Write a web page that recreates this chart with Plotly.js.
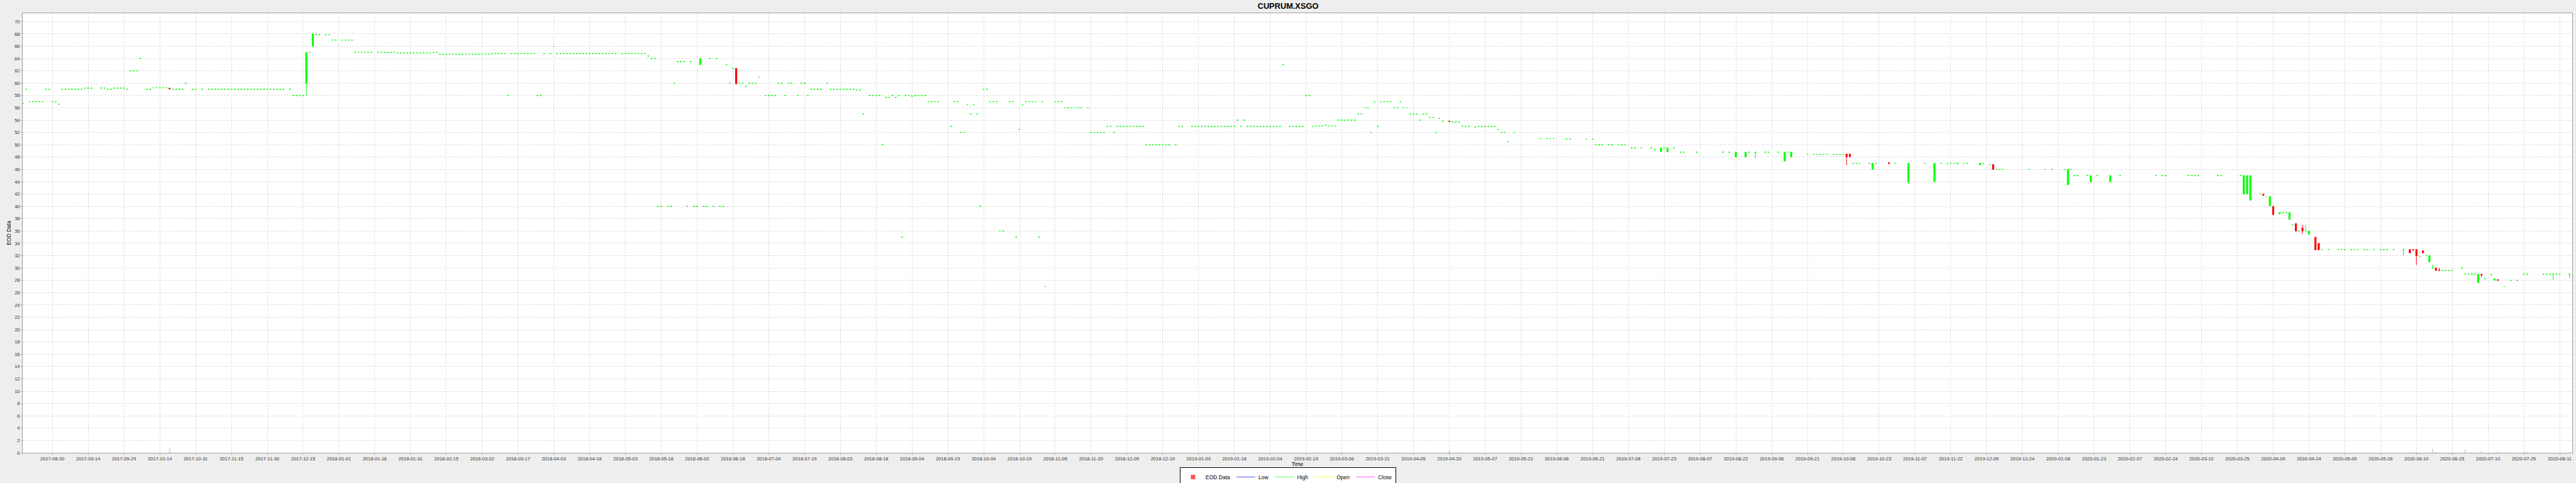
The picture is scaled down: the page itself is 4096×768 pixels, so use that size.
<!DOCTYPE html>
<html><head><meta charset="utf-8">
<script src="https://cdn.plot.ly/plotly-3.0.1.min.js"></script>
<style>html,body{margin:0;padding:0;background:#eeeeee;}#chart{width:4096px;height:768px;}</style>
</head><body><div id="chart"></div>
<script>
// ---- data (daily EOD candles) ----
const dates = [
 '2017-08-17','2017-08-18','2017-08-21','2017-08-22','2017-08-23','2017-08-24','2017-08-25','2017-08-28','2017-08-29','2017-08-30','2017-08-31',
 '2017-09-01','2017-09-04','2017-09-05','2017-09-06','2017-09-07','2017-09-08','2017-09-11','2017-09-12','2017-09-13','2017-09-14','2017-09-15','2017-09-20','2017-09-21','2017-09-22','2017-09-25','2017-09-26','2017-09-27','2017-09-28','2017-09-29',
 '2017-10-02','2017-10-03','2017-10-04','2017-10-05','2017-10-06','2017-10-10','2017-10-11','2017-10-12','2017-10-13','2017-10-16','2017-10-17','2017-10-18','2017-10-19','2017-10-20','2017-10-23','2017-10-24','2017-10-25','2017-10-26','2017-10-30','2017-10-31',
 '2017-11-02','2017-11-06','2017-11-07','2017-11-08','2017-11-09','2017-11-10','2017-11-13','2017-11-14','2017-11-15','2017-11-16','2017-11-17','2017-11-20','2017-11-21','2017-11-22','2017-11-23','2017-11-24','2017-11-27','2017-11-28','2017-11-29','2017-11-30',
 '2017-12-01','2017-12-04','2017-12-05','2017-12-06','2017-12-07','2017-12-11','2017-12-12','2017-12-13','2017-12-14','2017-12-15','2017-12-18','2017-12-19','2017-12-20','2017-12-21','2017-12-22','2017-12-26','2017-12-27','2017-12-28','2017-12-29',
 '2018-01-02','2018-01-03','2018-01-04','2018-01-05','2018-01-08','2018-01-09','2018-01-10','2018-01-11','2018-01-12','2018-01-15','2018-01-17','2018-01-18','2018-01-19','2018-01-22','2018-01-23','2018-01-24','2018-01-25','2018-01-26','2018-01-29','2018-01-30','2018-01-31',
 '2018-02-01','2018-02-02','2018-02-05','2018-02-06','2018-02-07','2018-02-08','2018-02-09','2018-02-12','2018-02-13','2018-02-14','2018-02-15','2018-02-16','2018-02-19','2018-02-20','2018-02-21','2018-02-22','2018-02-23','2018-02-26','2018-02-27','2018-02-28',
 '2018-03-01','2018-03-02','2018-03-05','2018-03-06','2018-03-07','2018-03-08','2018-03-09','2018-03-12','2018-03-13','2018-03-14','2018-03-15','2018-03-16','2018-03-19','2018-03-20','2018-03-21','2018-03-22','2018-03-23','2018-03-26','2018-03-27','2018-03-28','2018-03-29',
 '2018-04-02','2018-04-03','2018-04-04','2018-04-05','2018-04-06','2018-04-09','2018-04-10','2018-04-11','2018-04-12','2018-04-13','2018-04-16','2018-04-17','2018-04-18','2018-04-19','2018-04-20','2018-04-23','2018-04-24','2018-04-25','2018-04-26','2018-04-27','2018-04-30',
 '2018-05-02','2018-05-03','2018-05-04','2018-05-07','2018-05-08','2018-05-09','2018-05-10','2018-05-11','2018-05-14','2018-05-15','2018-05-16','2018-05-17','2018-05-18','2018-05-22','2018-05-23','2018-05-24','2018-05-25','2018-05-28','2018-05-29','2018-05-30','2018-05-31',
 '2018-06-01','2018-06-04','2018-06-05','2018-06-06','2018-06-07','2018-06-08','2018-06-11','2018-06-12','2018-06-13','2018-06-14','2018-06-15','2018-06-18','2018-06-19','2018-06-20','2018-06-21','2018-06-22','2018-06-25','2018-06-26','2018-06-27','2018-06-28','2018-06-29',
 '2018-07-03','2018-07-04','2018-07-05','2018-07-06','2018-07-09','2018-07-10','2018-07-11','2018-07-12','2018-07-13','2018-07-17','2018-07-18','2018-07-19','2018-07-20','2018-07-23','2018-07-24','2018-07-25','2018-07-26','2018-07-30','2018-07-31',
 '2018-08-01','2018-08-02','2018-08-03','2018-08-06','2018-08-07','2018-08-08','2018-08-09','2018-08-10','2018-08-13','2018-08-14','2018-08-16','2018-08-17','2018-08-20','2018-08-21','2018-08-22','2018-08-23','2018-08-24','2018-08-27','2018-08-28','2018-08-29','2018-08-30','2018-08-31',
 '2018-09-03','2018-09-04','2018-09-05','2018-09-06','2018-09-07','2018-09-10','2018-09-11','2018-09-12','2018-09-13','2018-09-14','2018-09-20','2018-09-21','2018-09-24','2018-09-25','2018-09-26','2018-09-27','2018-09-28',
 '2018-10-01','2018-10-02','2018-10-03','2018-10-04','2018-10-05','2018-10-08','2018-10-09','2018-10-10','2018-10-11','2018-10-12','2018-10-16','2018-10-17','2018-10-18','2018-10-19','2018-10-22','2018-10-23','2018-10-24','2018-10-25','2018-10-26','2018-10-29','2018-10-30','2018-10-31',
 '2018-11-05','2018-11-06','2018-11-07','2018-11-08','2018-11-09','2018-11-12','2018-11-13','2018-11-14','2018-11-15','2018-11-19','2018-11-20','2018-11-21','2018-11-22','2018-11-23','2018-11-26','2018-11-27','2018-11-28','2018-11-29','2018-11-30',
 '2018-12-03','2018-12-04','2018-12-05','2018-12-06','2018-12-07','2018-12-10','2018-12-11','2018-12-12','2018-12-13','2018-12-14','2018-12-17','2018-12-18','2018-12-19','2018-12-20','2018-12-21','2018-12-24','2018-12-26','2018-12-27','2018-12-28',
 '2019-01-02','2019-01-03','2019-01-04','2019-01-07','2019-01-08','2019-01-09','2019-01-10','2019-01-11','2019-01-14','2019-01-15','2019-01-16','2019-01-17','2019-01-18','2019-01-21','2019-01-22','2019-01-23','2019-01-24','2019-01-25','2019-01-28','2019-01-29','2019-01-30','2019-01-31',
 '2019-02-01','2019-02-04','2019-02-05','2019-02-06','2019-02-07','2019-02-08','2019-02-11','2019-02-13','2019-02-14','2019-02-15','2019-02-18','2019-02-19','2019-02-20','2019-02-21','2019-02-22','2019-02-25','2019-02-26','2019-02-27','2019-02-28',
 '2019-03-01','2019-03-04','2019-03-05','2019-03-06','2019-03-07','2019-03-08','2019-03-11','2019-03-12','2019-03-13','2019-03-14','2019-03-15','2019-03-18','2019-03-19','2019-03-20','2019-03-21','2019-03-22','2019-03-25','2019-03-26','2019-03-27','2019-03-28','2019-03-29',
 '2019-04-01','2019-04-02','2019-04-03','2019-04-04','2019-04-05','2019-04-08','2019-04-09','2019-04-10','2019-04-11','2019-04-12','2019-04-15','2019-04-16','2019-04-17','2019-04-18','2019-04-19','2019-04-23','2019-04-24','2019-04-25','2019-04-26','2019-04-29','2019-04-30',
 '2019-05-01','2019-05-03','2019-05-06','2019-05-07','2019-05-08','2019-05-09','2019-05-10','2019-05-13','2019-05-14','2019-05-15','2019-05-16','2019-05-17','2019-05-21','2019-05-31',
 '2019-06-04','2019-06-05','2019-06-06','2019-06-12','2019-06-13','2019-06-20','2019-06-24','2019-06-25','2019-06-26','2019-06-27',
 '2019-07-01','2019-07-02','2019-07-04','2019-07-05','2019-07-08','2019-07-10','2019-07-11','2019-07-15','2019-07-18','2019-07-19','2019-07-23','2019-07-24','2019-07-25','2019-07-29','2019-07-31',
 '2019-08-01','2019-08-07','2019-08-19','2019-08-21','2019-08-23','2019-08-28','2019-08-29',
 '2019-09-02','2019-09-05','2019-09-06','2019-09-11','2019-09-13','2019-09-16','2019-09-17','2019-09-24','2019-09-26','2019-09-27','2019-09-30',
 '2019-10-01','2019-10-02','2019-10-04','2019-10-07','2019-10-08','2019-10-09','2019-10-10','2019-10-11','2019-10-14','2019-10-15','2019-10-16','2019-10-21','2019-10-22','2019-10-23','2019-10-29','2019-10-31',
 '2019-11-06','2019-11-13','2019-11-18','2019-11-20','2019-11-22','2019-11-25','2019-11-26','2019-11-27','2019-11-29',
 '2019-12-02','2019-12-06','2019-12-09','2019-12-11','2019-12-12','2019-12-13','2019-12-16','2019-12-17','2019-12-27',
 '2020-01-03','2020-01-07','2020-01-13','2020-01-14','2020-01-15','2020-01-16','2020-01-17','2020-01-22','2020-01-23','2020-01-27','2020-01-31',
 '2020-02-05','2020-02-20','2020-02-24','2020-02-25',
 '2020-03-05','2020-03-06','2020-03-09','2020-03-10','2020-03-18','2020-03-19','2020-03-27','2020-03-30','2020-03-31',
 '2020-04-01','2020-04-06','2020-04-07','2020-04-08','2020-04-09','2020-04-10','2020-04-14','2020-04-15','2020-04-16','2020-04-17','2020-04-20','2020-04-21','2020-04-22','2020-04-23','2020-04-24','2020-04-27','2020-04-29','2020-04-30',
 '2020-05-01','2020-05-05','2020-05-08','2020-05-11','2020-05-12','2020-05-14','2020-05-15','2020-05-18','2020-05-20','2020-05-21','2020-05-25','2020-05-27','2020-05-28','2020-05-29',
 '2020-06-02','2020-06-05','2020-06-09','2020-06-10','2020-06-11','2020-06-12','2020-06-15','2020-06-16','2020-06-17','2020-06-18','2020-06-19','2020-06-22','2020-06-23','2020-06-24','2020-06-25','2020-06-26',
 '2020-07-01','2020-07-02','2020-07-03','2020-07-06','2020-07-07','2020-07-08','2020-07-09','2020-07-10','2020-07-14','2020-07-15','2020-07-16','2020-07-20','2020-07-22','2020-07-24','2020-07-28','2020-07-29',
 '2020-08-05','2020-08-06','2020-08-07','2020-08-10','2020-08-11','2020-08-12','2020-08-17'
];
const openP = [
 56.7,59,57,57,57,57,57,59,59,57,57,
 56.6,59,59,59,59,59,59,59,59.2,59.2,59.2,59.2,59.2,59,59,59.2,59.2,59.2,59.2,
 59,62,62,62,64,59,59,59.25,59.25,59.25,59.25,59.25,59.2,59,59,59,59,60,59,59,
 59,59,59,59,59,59,59,59,59,59,59,59,59,59,59,59,59,59,59,59,
 59,59,59,59,59,59,58,58,58,58,60,65,66,67.9,67.9,67.85,67.85,67,67,
 67,67,67,67,65,65,65,65,65,65,65,65,65,65,65,65,64.9,64.9,64.9,64.9,64.9,
 64.9,64.9,64.9,64.9,64.9,64.9,65,65,64.7,64.7,64.7,64.7,64.7,64.7,64.7,64.7,64.7,64.7,64.7,64.7,
 64.7,64.7,64.7,64.7,64.8,64.8,64.8,64.8,64.8,58,64.8,64.8,64.8,64.8,64.8,64.8,64.8,64.8,58,58,64.8,
 64.8,66,64.8,64.8,64.8,64.8,64.8,64.8,64.8,64.8,64.8,64.8,64.8,64.8,64.8,64.8,64.8,64.8,64.8,64.8,64.8,
 64.8,64.8,64.8,64.8,64.8,64.8,64.8,64.8,64.4,64,64,40,40,40,40,60,63.5,63.5,63.5,40,63.5,
 40,40,63,40,40,64,40,64,40,40,63,60,62.4,62.4,60,60,59.5,60,60,60,61,
 58,58,58,58,60,60,58,60,60,58,60,60,58,59,59,59,59,60,59,
 59,59,59,59,59,59,59,58.9,58.9,55,58,58,58,58,50,57.7,57.7,58,57.7,58,35,58,
 58,57.9,58,58,58,58,57,57,57,57,53,57,57,52,52,56.5,55,
 56.5,55,40,59,59,57,57,57,36,36,57,57,35,52.5,56.5,57,57,57,57,35,57,27,
 57,57,57,56,56,56,56,56,56,56,52,52,52,52,52,53,53,52,53,
 53,53,53,53,53,53,53,53,50,50,50,50,50,50,50,50,50,53,53,
 53,53,53,53,53,53,53,53,53,53,53,53,53,53,54,53,54,53,53,53,53,53,
 53,53,53,53,53,53,63,53,53,53,53,53,58,58,53,53.1,53.05,53.05,53.2,
 53.05,53.05,53.05,54,54,54,54,54,54,55,55,56,56,52,57,53,57,57,57,57,56,
 56,57,56,56,55,55,55,54,55,55,54.45,54.45,52,54.3,53.8,53.85,53.7,53.7,53.7,53,53,
 53,52.9,53,53,53,53,53,53,52.5,52,52,50.5,52,51,
 51,51,51,50.95,50.95,50.9,50.9,50,50,50,
 50,50,50,50,50,49.5,49.5,49.5,49.5,49.2,48.9,49.5,48.85,49.5,48.8,
 48.8,48.8,48.8,48.8,48,48,48.8,
 48.7,48.8,48.8,48.8,47.35,48.8,48,48.45,48.45,48.45,48.45,
 48.45,48.45,48.45,48.45,48.45,48.45,48.5,48.5,47,47,47,47,46,47,47.1,47,
 44,47,44,47,47,47,47,46.9,47,
 47,46.75,47,46.8,46.8,46,46,46,46,
 46,46,46,43.5,46,45,45,45,44,45,44,
 45,45,45,45,
 45,45,45,45,45,45,45,42,42,
 41,42,42,41.6,40.1,40,38.8,39,39,37.9,37,37.2,36,36.5,36,35.5,35,34,
 33,33,33,33,33,33,33,33,33,33,33,33,33,33,
 33,33,33,33,33,31.9,32.8,32,31,30,30,29.65,29.6,29.6,29.6,29.6,
 30,29,29,29,29,27.6,29,28.25,28.9,28,28.1,27,28,28,29,29,
 29,29,29,29,29,29,29
];
const highP = [
 56.7,59,57,57,57,57,57,59,59,57,57,
 56.6,59,59,59,59,59,59,59,59.2,59.2,59.2,59.2,59.2,59,59,59.2,59.2,59.2,59.2,
 59,62,62,62,64,59,59,59.25,59.25,59.25,59.25,59.25,59.2,59,59,59,59,60,59,59,
 59,59,59,59,59,59,59,59,59,59,59,59,59,59,59,59,59,59,59,59,
 59,59,59,59,59,59,58,58,58,58,65,65,68,67.9,67.9,67.85,67.85,67,67,
 67,67,67,67,65,65,65,65,65,65,65,65,65,65,65,65,64.9,64.9,64.9,64.9,64.9,
 64.9,64.9,64.9,64.9,64.9,64.9,65,65,64.7,64.7,64.7,64.7,64.7,64.7,64.7,64.7,64.7,64.7,64.7,64.7,
 64.7,64.7,64.7,64.7,64.8,64.8,64.8,64.8,64.8,58,64.8,64.8,64.8,64.8,64.8,64.8,64.8,64.8,58,58,64.8,
 64.8,66,64.8,64.8,64.8,64.8,64.8,64.8,64.8,64.8,64.8,64.8,64.8,64.8,64.8,64.8,64.8,64.8,64.8,64.8,64.8,
 64.8,64.8,64.8,64.8,64.8,64.8,64.8,64.8,64.4,64,64,40,40,40,40,60,63.5,63.5,63.5,40,63.5,
 40,40,64,40,40,64,40,64,40,40,63,60,62.4,62.4,60,60,59.5,60,60,60,61,
 58,58,58,58,60,60,58,60,60,58,60,60,58,59,59,59,59,60,59,
 59,59,59,59,59,59,59,58.9,58.9,55,58,58,58,58,50,57.7,57.7,58,57.7,58,35,58,
 58,57.9,58,58,58,58,57,57,57,57,53,57,57,52,52,56.5,55,
 56.5,55,40,59,59,57,57,57,36,36,57,57,35,52.5,56.5,57,57,57,57,35,57,27,
 57,57,57,56,56,56,56,56,56,56,52,52,52,52,52,53,53,52,53,
 53,53,53,53,53,53,53,53,50,50,50,50,50,50,50,50,50,53,53,
 53,53,53,53,53,53,53,53,53,53,53,53,53,53,54,53,54,53,53,53,53,53,
 53,53,53,53,53,53,63,53,53,53,53,53,58,58,53,53.1,53.05,53.05,53.2,
 53.05,53.05,53.05,54,54,54,54,54,54,55,55,56,56,52,57,53,57,57,57,57,56,
 56,57,56,56,55,55,55,54,55,55,54.45,54.45,52,54.3,53.8,53.85,53.7,53.7,53.7,53,53,
 53,52.9,53,53,53,53,53,53,52.5,52,52,50.5,52,51,
 51,51,51,50.95,50.95,50.9,50.9,50,50,50,
 50,50,50,50,50,49.5,49.5,49.5,49.5,49.2,49.5,49.5,49.5,49.5,48.8,
 48.8,48.8,48.8,48.8,48.8,48.8,48.8,
 48.8,48.8,48.8,48.8,48.8,48.8,48.8,48.45,48.45,48.45,48.45,
 48.45,48.45,48.45,48.45,48.45,48.45,48.5,48.5,47,47,47,47,47,47,47.1,47,
 47,47,47,47,47,47,47,47,47,
 47,47,47,46.8,46.8,46,46,46,46,
 46,46,46,46,46,45,45,45,45,45,45,
 45,45,45,45,
 45,45,45,45,45,45,45,45,45,
 45,42,42,41.6,41.6,40,39,39,39,39,37,37.2,36,37,37,36,35,34,
 33,33,33,33,33,33,33,33,33,33,33,33,33,33,
 33,33,33,33,33,31.9,32.8,32,32,30.5,30,30,29.6,29.6,29.6,29.6,
 30,29,29,29,29,29,29,28.25,28.9,28.25,28.1,27,28,28,29,29,
 29,29,29,29,29,29,29
];
const lowP = [
 56.7,59,57,57,57,57,57,59,59,57,57,
 56.6,59,59,59,59,59,59,59,59.2,59.2,59.2,59.2,59.2,59,59,59.2,59.2,59.2,59.2,
 59,62,62,62,64,59,59,59.25,59.25,59.25,59.25,59.25,59.05,59,59,59,59,60,59,59,
 59,59,59,59,59,59,59,59,59,59,59,59,59,59,59,59,59,59,59,59,
 59,59,59,59,59,59,58,58,58,58,58,65,66,67.9,67.9,67.85,67.85,67,67,
 67,67,67,67,65,65,65,65,65,65,65,65,65,65,65,65,64.9,64.9,64.9,64.9,64.9,
 64.9,64.9,64.9,64.9,64.9,64.9,65,65,64.7,64.7,64.7,64.7,64.7,64.7,64.7,64.7,64.7,64.7,64.7,64.7,
 64.7,64.7,64.7,64.7,64.8,64.8,64.8,64.8,64.8,58,64.8,64.8,64.8,64.8,64.8,64.8,64.8,64.8,58,58,64.8,
 64.8,66,64.8,64.8,64.8,64.8,64.8,64.8,64.8,64.8,64.8,64.8,64.8,64.8,64.8,64.8,64.8,64.8,64.8,64.8,64.8,
 64.8,64.8,64.8,64.8,64.8,64.8,64.8,64.8,64.4,64,64,40,40,40,40,60,63.5,63.5,63.5,40,63.5,
 40,40,63,40,40,64,40,64,40,40,63,60,62.4,59.9,60,60,59.5,60,60,60,61,
 58,58,58,58,60,60,58,60,60,58,60,60,58,59,59,59,59,60,59,
 59,59,59,59,59,59,59,58.9,58.9,55,58,58,58,58,50,57.7,57.7,58,57.7,58,35,58,
 58,57.9,58,58,58,58,57,57,57,57,53,57,57,52,52,56.5,55,
 56.5,55,40,59,59,57,57,57,36,36,57,57,35,52.5,56.5,57,57,57,57,35,57,27,
 57,57,57,56,56,56,56,56,56,56,52,52,52,52,52,53,53,52,53,
 53,53,53,53,53,53,53,53,50,50,50,50,50,50,50,50,50,53,53,
 53,53,53,53,53,53,53,53,53,53,53,53,53,53,54,53,54,53,53,53,53,53,
 53,53,53,53,53,53,63,53,53,53,53,53,58,58,53,53.1,53.05,53.05,53.2,
 53.05,53.05,53.05,54,54,54,54,54,54,55,55,56,56,52,57,53,57,57,57,57,56,
 56,57,56,56,55,55,55,54,55,55,54.45,54.45,52,54.3,53.8,53.75,53.7,53.7,53.7,53,53,
 53,52.9,53,53,53,53,53,53,52.5,52,52,50.5,52,51,
 51,51,51,50.95,50.95,50.9,50.9,50,50,50,
 50,50,50,50,50,49.5,49.5,49.5,49.5,49.2,48.9,49.5,48.85,49.5,48.8,
 48.8,48.8,48.8,48.8,48,48,48.8,
 47.9,48.8,48.8,48.8,47.35,48.8,48,48.45,48.45,48.45,48.45,
 48.45,48.45,48.45,48.45,48.45,48.45,46.7,48.05,47,47,47,47,46,47,46.95,47,
 43.6,47,44,47,47,47,47,46.9,47,
 47,46.75,47,46.8,46,46,46,46,46,
 46,46,46,43.5,46,45,45,45,44,45,44,
 45,45,45,45,
 45,45,45,45,45,45,45,42,42,
 41,42,41.7,41.6,40.1,38.5,38.8,39,39,37.9,37,36,36,35.5,36,35.5,32.95,32.95,
 33,33,33,33,33,33,33,33,33,33,33,33,33,33,
 33,32,32.45,32.9,30.5,31.9,32.45,32,31,30,29.6,29.6,29.6,29.6,29.6,29.6,
 30,29,29,29,29,27.6,28.5,28.25,28.9,28,28,27,28,28,29,29,
 29,29,29,28,29,29,28.4
];
const closeP = [
 56.7,59,57,57,57,57,57,59,59,57,57,
 56.6,59,59,59,59,59,59,59,59.2,59.2,59.2,59.2,59.2,59,59,59.2,59.2,59.2,59.2,
 59,62,62,62,64,59,59,59.25,59.25,59.25,59.25,59.25,59.05,59,59,59,59,60,59,59,
 59,59,59,59,59,59,59,59,59,59,59,59,59,59,59,59,59,59,59,59,
 59,59,59,59,59,59,58,58,58,58,65,65,68,67.9,67.9,67.85,67.85,67,67,
 67,67,67,67,65,65,65,65,65,65,65,65,65,65,65,65,64.9,64.9,64.9,64.9,64.9,
 64.9,64.9,64.9,64.9,64.9,64.9,65,65,64.7,64.7,64.7,64.7,64.7,64.7,64.7,64.7,64.7,64.7,64.7,64.7,
 64.7,64.7,64.7,64.7,64.8,64.8,64.8,64.8,64.8,58,64.8,64.8,64.8,64.8,64.8,64.8,64.8,64.8,58,58,64.8,
 64.8,66,64.8,64.8,64.8,64.8,64.8,64.8,64.8,64.8,64.8,64.8,64.8,64.8,64.8,64.8,64.8,64.8,64.8,64.8,64.8,
 64.8,64.8,64.8,64.8,64.8,64.8,64.8,64.8,64.4,64,64,40,40,40,40,60,63.5,63.5,63.5,40,63.5,
 40,40,64,40,40,64,40,64,40,40,63,60,62.4,59.9,60,60,59.5,60,60,60,61,
 58,58,58,58,60,60,58,60,60,58,60,60,58,59,59,59,59,60,59,
 59,59,59,59,59,59,59,58.9,58.9,55,58,58,58,58,50,57.7,57.7,58,57.7,58,35,58,
 58,57.9,58,58,58,58,57,57,57,57,53,57,57,52,52,56.5,55,
 56.5,55,40,59,59,57,57,57,36,36,57,57,35,52.5,56.5,57,57,57,57,35,57,27,
 57,57,57,56,56,56,56,56,56,56,52,52,52,52,52,53,53,52,53,
 53,53,53,53,53,53,53,53,50,50,50,50,50,50,50,50,50,53,53,
 53,53,53,53,53,53,53,53,53,53,53,53,53,53,54,53,54,53,53,53,53,53,
 53,53,53,53,53,53,63,53,53,53,53,53,58,58,53,53.1,53.05,53.05,53.2,
 53.05,53.05,53.05,54,54,54,54,54,54,55,55,56,56,52,57,53,57,57,57,57,56,
 56,57,56,56,55,55,55,54,55,55,54.45,54.45,52,54.3,53.8,53.75,53.7,53.7,53.7,53,53,
 53,52.9,53,53,53,53,53,53,52.5,52,52,50.5,52,51,
 51,51,51,50.95,50.95,50.9,50.9,50,50,50,
 50,50,50,50,50,49.5,49.5,49.5,49.5,49.2,49.5,49.5,49.5,49.5,48.8,
 48.8,48.8,48.8,48.8,48.8,48.8,48.8,
 48.8,48.8,48.8,48.8,48.8,48.8,48.8,48.45,48.45,48.45,48.45,
 48.45,48.45,48.45,48.45,48.45,48.45,48.05,48.05,47,47,47,47,47,47,46.95,47,
 47,47,47,47,47,47,47,47,47,
 47,47,47,46.8,46,46,46,46,46,
 46,46,46,46,46,45,45,45,45,45,45,
 45,45,45,45,
 45,45,45,45,45,45,45,45,45,
 45,42,41.8,41.6,41.6,38.7,39,39,39,39,37,36,36,36,36,36,32.95,32.95,
 33,33,33,33,33,33,33,33,33,33,33,33,33,33,
 33,33,32.45,32.9,32,31.9,32.45,32,32,30,29.6,29.6,29.6,29.6,29.6,29.6,
 30,29,29,29,29,29,28.85,28.25,28.9,28.25,28,27,28,28,29,29,
 29,29,29,29,29,29,29
];
// traded volume, relative to the largest day of the series (percent)
const volDates = [
 '2017-09-11','2017-10-19','2017-11-17','2017-12-18',
 '2019-02-26','2019-03-06','2019-03-29','2019-04-23','2019-04-26',
 '2020-06-09','2020-06-10','2020-06-11','2020-06-17','2020-06-18','2020-06-19','2020-06-25','2020-07-02','2020-07-06','2020-07-09','2020-07-15','2020-07-16','2020-07-20','2020-07-28','2020-07-29','2020-08-12','2020-08-17'
];
const volume = [
 0.15,1.0,0.12,0.2,
 0.12,0.2,0.12,0.42,0.12,
 0.12,0.15,0.12,0.15,0.92,0.15,0.12,0.72,0.15,0.4,0.12,0.3,0.12,0.12,0.2,0.12,0.12
];

// ---- axis ticks (every 11 trading days on a Mon-Fri timeline) ----
const tickDates = [
 '2017-08-30','2017-09-14','2017-09-29','2017-10-16','2017-10-31','2017-11-15','2017-11-30','2017-12-15',
 '2018-01-01','2018-01-16','2018-01-31','2018-02-15','2018-03-02','2018-03-19','2018-04-03','2018-04-18','2018-05-03','2018-05-18','2018-06-04','2018-06-19','2018-07-04','2018-07-19','2018-08-03','2018-08-20','2018-09-04','2018-09-19','2018-10-04','2018-10-19','2018-11-05','2018-11-20','2018-12-05','2018-12-20',
 '2019-01-04','2019-01-21','2019-02-05','2019-02-20','2019-03-07','2019-03-22','2019-04-08','2019-04-23','2019-05-08','2019-05-23','2019-06-07','2019-06-24','2019-07-09','2019-07-24','2019-08-08','2019-08-23','2019-09-09','2019-09-24','2019-10-09','2019-10-24','2019-11-08','2019-11-25','2019-12-10','2019-12-25',
 '2020-01-09','2020-01-24','2020-02-10','2020-02-25','2020-03-11','2020-03-26','2020-04-10','2020-04-27','2020-05-12','2020-05-27','2020-06-11','2020-06-26','2020-07-13','2020-07-28','2020-08-12'
];
const tickLabels = [
 '2017-08-30','2017-09-14','2017-09-29','2017-10-14','2017-10-31','2017-11-15','2017-11-30','2017-12-15',
 '2018-01-01','2018-01-16','2018-01-31','2018-02-15','2018-03-02','2018-03-17','2018-04-03','2018-04-18','2018-05-03','2018-05-18','2018-06-02','2018-06-18','2018-07-04','2018-07-19','2018-08-03','2018-08-18','2018-09-04','2018-09-19','2018-10-04','2018-10-19','2018-11-05','2018-11-20','2018-12-05','2018-12-19',
 '2019-01-03','2019-01-18','2019-02-04','2019-02-19','2019-03-06','2019-03-21','2019-04-05','2019-04-20','2019-05-07','2019-05-22','2019-06-06','2019-06-21','2019-07-08','2019-07-23','2019-08-07','2019-08-22','2019-09-06','2019-09-21','2019-10-08','2019-10-23','2019-11-07','2019-11-22','2019-12-09','2019-12-24',
 '2020-01-08','2020-01-23','2020-02-07','2020-02-24','2020-03-10','2020-03-25','2020-04-09','2020-04-24','2020-05-09','2020-05-26','2020-06-10','2020-06-25','2020-07-10','2020-07-25','2020-08-11'
];
const xRange = ['2017-08-17 08:53', '2020-08-18 08:24'];
const yRange = [0, 71.36];

// ---- build traces ----
const MID = ' 12:00'; // each trading day drawn at its centre
function subset(test) {
  const r = {x: [], o: [], h: [], l: [], c: []};
  for (let i = 0; i < dates.length; i++) {
    if (test(openP[i], closeP[i])) {
      r.x.push(dates[i] + MID); r.o.push(openP[i]); r.h.push(highP[i]); r.l.push(lowP[i]); r.c.push(closeP[i]);
    }
  }
  return r;
}
const up = subset((o, c) => c >= o);
const dn = subset((o, c) => c < o);
function candle(s, col) {
  const st = {line: {color: col, width: 1}, fillcolor: col};
  return {type: 'candlestick', x: s.x, open: s.o, high: s.h, low: s.l, close: s.c,
    increasing: st, decreasing: st, whiskerwidth: 0, showlegend: false, hoverinfo: 'skip'};
}
const FONT = 'Liberation Sans, Arial, Helvetica, sans-serif';
const traces = [
  {type: 'bar', x: volDates.map(d => d + MID), y: volume, yaxis: 'y2', width: 0.4 * 86400000,
   marker: {color: 'rgba(128,128,128,0.3)', line: {width: 0}}, showlegend: false, hoverinfo: 'skip'},
  candle(up, '#00ff00'),
  candle(dn, '#ff0000'),
  {type: 'scatter', x: [null], y: [null], mode: 'markers', name: 'EOD Data', marker: {symbol: 'square', size: 7, color: '#ff5555'}},
  {type: 'scatter', x: [null], y: [null], mode: 'lines', name: 'Low', line: {color: '#5555ff', width: 1}},
  {type: 'scatter', x: [null], y: [null], mode: 'lines', name: 'High', line: {color: '#55ff55', width: 1}},
  {type: 'scatter', x: [null], y: [null], mode: 'lines', name: 'Open', line: {color: '#ffff55', width: 1}},
  {type: 'scatter', x: [null], y: [null], mode: 'lines', name: 'Close', line: {color: '#ff55ff', width: 1}}
];
const axisCommon = {
  showgrid: true, gridcolor: '#d6d6d6', gridwidth: 1, griddash: '2px,2px',
  showline: true, linecolor: '#a0a0a0', linewidth: 1, mirror: true, zeroline: false,
  ticks: 'outside', ticklen: 2, tickcolor: '#a0a0a0', tickwidth: 1,
  tickfont: {family: FONT, size: 7.5, color: '#333'}, automargin: false, fixedrange: true
};
const layout = {
  width: 4096, height: 768,
  paper_bgcolor: '#eeeeee', plot_bgcolor: '#ffffff',
  margin: {l: 35.5, r: 6, t: 20.6, b: 47.7, pad: 0},
  font: {family: FONT, color: '#000'},
  title: {text: 'CUPRUM.XSGO', font: {family: FONT, size: 12.8, color: '#000', weight: 'bold'},
          x: 0.5, xref: 'container', xanchor: 'center', y: 0.988, yref: 'container', yanchor: 'middle'},
  xaxis: Object.assign({}, axisCommon, {
    type: 'date', range: xRange, rangebreaks: [{bounds: ['sat', 'mon']}],
    tickmode: 'array', tickvals: tickDates.map(d => d + MID), ticktext: tickLabels,
    rangeslider: {visible: false},
    title: {text: 'Time', font: {family: FONT, size: 8.5, color: '#000'}, standoff: 2}
  }),
  yaxis: Object.assign({}, axisCommon, {
    range: yRange, tickmode: 'linear', tick0: 0, dtick: 2,
    title: {text: 'EOD Data', font: {family: FONT, size: 8.5, color: '#000'}, standoff: 4}
  }),
  yaxis2: {overlaying: 'y', range: [0, 100], visible: false, fixedrange: true},
  showlegend: true,
  legend: {orientation: 'h', xref: 'container', yref: 'container', x: 0.5, xanchor: 'center',
           y: 0.0125, yanchor: 'middle', bgcolor: '#ffffff', bordercolor: '#000000', borderwidth: 1,
           font: {family: FONT, size: 8.5, color: '#000'}, itemwidth: 30, tracegroupgap: 0},
  boxgap: 0.4, boxgroupgap: 0.3,
  hovermode: false
};
Plotly.newPlot('chart', traces, layout, {displayModeBar: false, staticPlot: true});
</script>
</body></html>
